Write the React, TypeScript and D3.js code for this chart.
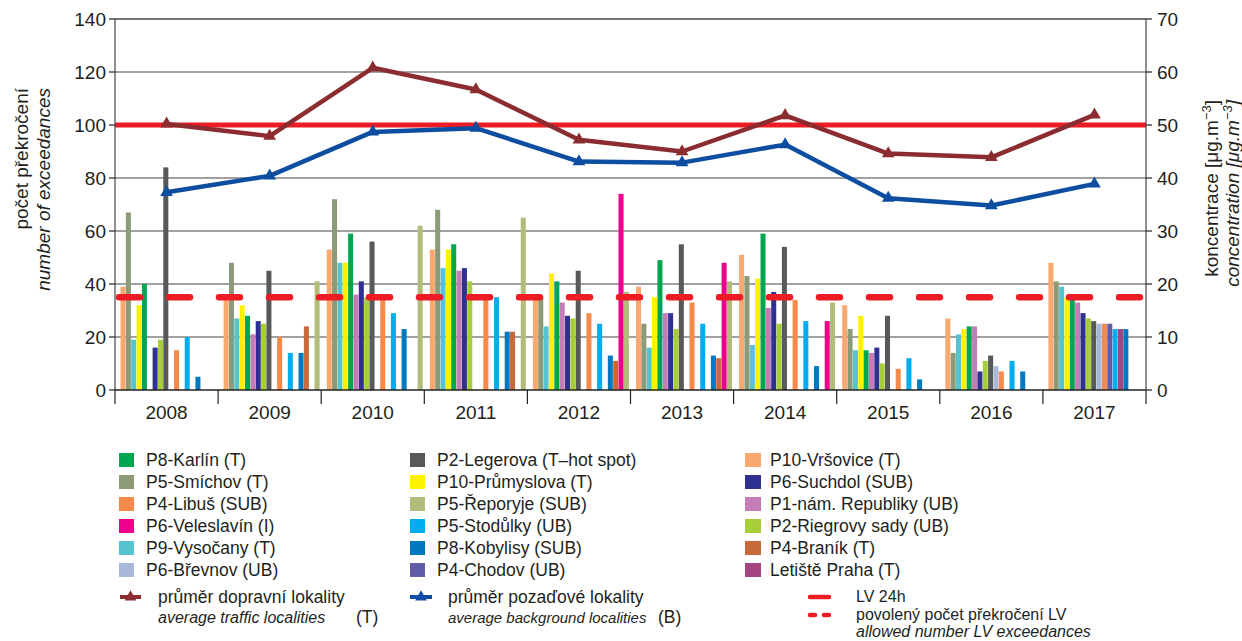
import React from "react";
import * as d3 from "d3";

// Years on the category axis
const years = ["2008", "2009", "2010", "2011", "2012", "2013", "2014", "2015", "2016", "2017"];

// Number of exceedances of the 24h limit value per station and year (null = not measured)
const vrsovice = [39, 35, 53, 53, 35, 39, 51, 32, 27, 48];
const smichov = [67, 48, 72, 68, 35, 25, 43, 23, 14, 41];
const vysocany = [19, 27, 48, 46, 24, 16, 17, 15, 21, 39];
const prumyslova = [32, 32, 48, 53, 44, 35, 42, 28, 23, 35];
const karlin = [40, 28, 59, 55, 41, 49, 59, 15, 24, 34];
const namRepubliky = [null, 21, 36, 45, 33, 29, 31, 14, 24, 33];
const suchdol = [16, 26, 41, 46, 28, 29, 37, 16, 7, 29];
const riegrovy = [19, 25, 35, 41, 27, 23, 25, 10, 11, 27];
const legerova = [84, 45, 56, null, 45, 55, 54, 28, 13, 26];
const brevnov = [null, null, null, null, null, null, null, null, 9, 25];
const libus = [15, 20, 34, 35, 29, 33, 34, 8, 7, 25];
const chodov = [null, null, null, null, null, null, null, null, null, 25];
const stodulky = [20, 14, 29, 35, 25, 25, 26, 12, 11, 23];
const letiste = [null, null, null, null, null, null, null, null, null, 23];
const kobylisy = [5, 14, 23, 22, 13, 13, 9, 4, 7, 23];
const branik = [null, 24, null, 22, 11, 12, null, null, null, null];
const veleslavin = [null, null, null, null, 74, 48, 26, null, null, null];
const reporyje = [null, 41, 62, 65, 37, 41, 33, null, null, null];

// Average concentrations [µg.m-3] (right axis)
const avgTraffic = [50.2, 47.9, 60.8, 56.7, 47.2, 45.0, 51.8, 44.6, 43.9, 51.9];
const avgBackground = [37.3, 40.4, 48.7, 49.4, 43.1, 42.9, 46.3, 36.2, 34.8, 38.9];

// Limits
const limitValue24h = 50; // µg.m-3, right axis
const allowedExceedances = 35; // count, left axis

// Axis ticks
const leftTicks = [0, 20, 40, 60, 80, 100, 120, 140];
const rightTicks = [0, 10, 20, 30, 40, 50, 60, 70];

type Station = { key: string; label: string; color: string; values: (number | null)[] };

// Bar order inside each year group
const stations: Station[] = [
  { key: "vrsovice", label: "P10-Vršovice (T)", color: "#f9a870", values: vrsovice },
  { key: "smichov", label: "P5-Smíchov (T)", color: "#8c9a78", values: smichov },
  { key: "vysocany", label: "P9-Vysočany (T)", color: "#56c3cf", values: vysocany },
  { key: "prumyslova", label: "P10-Průmyslova (T)", color: "#fff200", values: prumyslova },
  { key: "karlin", label: "P8-Karlín (T)", color: "#00a651", values: karlin },
  { key: "namRepubliky", label: "P1-nám. Republiky (UB)", color: "#c57db6", values: namRepubliky },
  { key: "suchdol", label: "P6-Suchdol (SUB)", color: "#2e3192", values: suchdol },
  { key: "riegrovy", label: "P2-Riegrovy sady (UB)", color: "#a6ce39", values: riegrovy },
  { key: "legerova", label: "P2-Legerova (T–hot spot)", color: "#58595b", values: legerova },
  { key: "brevnov", label: "P6-Břevnov (UB)", color: "#a8b8d8", values: brevnov },
  { key: "libus", label: "P4-Libuš (SUB)", color: "#f58a4b", values: libus },
  { key: "chodov", label: "P4-Chodov (UB)", color: "#605ca8", values: chodov },
  { key: "stodulky", label: "P5-Stodůlky (UB)", color: "#00aeef", values: stodulky },
  { key: "letiste", label: "Letiště Praha (T)", color: "#a3457f", values: letiste },
  { key: "kobylisy", label: "P8-Kobylisy (SUB)", color: "#0079c1", values: kobylisy },
  { key: "branik", label: "P4-Braník (T)", color: "#c8693a", values: branik },
  { key: "veleslavin", label: "P6-Veleslavín (I)", color: "#ec008c", values: veleslavin },
  { key: "reporyje", label: "P5-Řeporyje (SUB)", color: "#b3bb78", values: reporyje },
];

// Legend columns
const legendColumns: string[][] = [
  ["karlin", "smichov", "libus", "veleslavin", "vysocany", "brevnov"],
  ["legerova", "prumyslova", "reporyje", "stodulky", "kobylisy", "chodov"],
  ["vrsovice", "suchdol", "namRepubliky", "riegrovy", "branik", "letiste"],
];

const W = 1242;
const H = 641;
const left = 115;
const right = 1146;
const top = 19;
const bottom = 390;
const FONT = "'Liberation Sans', Arial, Helvetica, sans-serif";

const TRAFFIC = "#8b2c31";
const BACKGROUND = "#0e4ea0";
const RED = "#ed1c24";
const INK = "#231f20";
const LEGEND_FS = 17.5;
const SMALL_FS = 16;

export default function App() {
  const x = d3.scaleBand<string>().domain(years).range([left, right]).padding(0);
  const inner = d3
    .scaleBand<string>()
    .domain(stations.map((s) => s.key))
    .range([5.5, 101.5])
    .paddingInner(0.06);
  const yL = d3.scaleLinear().domain([0, 140]).range([bottom, top]);
  const yR = d3.scaleLinear().domain([0, 70]).range([bottom, top]);

  const cx = (i: number) => (x(years[i]) as number) + x.bandwidth() / 2;
  const lineGen = d3
    .line<number>()
    .x((_, i) => cx(i))
    .y((d) => yR(d));

  const tri = d3.symbol().type(d3.symbolTriangle).size(70)() as string;
  const triSmall = d3.symbol().type(d3.symbolTriangle).size(60)() as string;

  const byKey = new Map(stations.map((s) => [s.key, s]));
  const colX = [119, 410, 745];
  const textX = [146, 437, 770];
  const rowY = [460, 482, 504, 526, 548, 570];

  return (
    <svg
      width={W}
      height={H}
      style={{ position: "absolute", left: 0, top: 0, background: "#fff" }}
      fontFamily={FONT}
    >
      {/* gridlines */}
      {leftTicks.slice(1).map((t) => (
        <line key={"g" + t} x1={left} x2={right} y1={yL(t)} y2={yL(t)} stroke="#444" strokeWidth={t === 140 ? 1.6 : 1.2} />
      ))}

      {/* bars */}
      {years.map((yr, i) => (
        <g key={yr} transform={`translate(${x(yr)},0)`}>
          {stations.map((s) => {
            const v = s.values[i];
            if (v == null) return null;
            return (
              <rect
                key={s.key}
                x={inner(s.key)}
                y={yL(v)}
                width={inner.bandwidth()}
                height={yL(0) - yL(v)}
                fill={s.color}
              />
            );
          })}
        </g>
      ))}

      {/* allowed number of exceedances */}
      <line
        x1={left + 4}
        x2={right}
        y1={yL(allowedExceedances)}
        y2={yL(allowedExceedances)}
        stroke={RED}
        strokeWidth={6.5}
        strokeDasharray="21 29"
        strokeLinecap="round"
      />
      {/* 24h limit value */}
      <line x1={left} x2={right} y1={yR(limitValue24h)} y2={yR(limitValue24h)} stroke={RED} strokeWidth={5} />

      {/* average lines */}
      <path d={lineGen(avgTraffic) as string} fill="none" stroke={TRAFFIC} strokeWidth={4.5} strokeLinejoin="round" />
      {avgTraffic.map((v, i) => (
        <path key={"mt" + i} d={tri} transform={`translate(${cx(i)},${yR(v)})`} fill={TRAFFIC} />
      ))}
      <path d={lineGen(avgBackground) as string} fill="none" stroke={BACKGROUND} strokeWidth={4.5} strokeLinejoin="round" />
      {avgBackground.map((v, i) => (
        <path key={"mb" + i} d={tri} transform={`translate(${cx(i)},${yR(v)})`} fill={BACKGROUND} />
      ))}

      {/* axes */}
      <line x1={left} x2={left} y1={top} y2={bottom} stroke="#444" strokeWidth={1.2} />
      <line x1={right} x2={right} y1={top} y2={bottom} stroke="#444" strokeWidth={1.2} />
      <line x1={left} x2={right} y1={bottom} y2={bottom} stroke="#222" strokeWidth={1.4} />
      {years.concat(["end"]).map((yr, i) => {
        const xx = left + i * x.bandwidth();
        return <line key={"xt" + i} x1={xx} x2={xx} y1={bottom} y2={bottom + 14} stroke="#222" strokeWidth={1.2} />;
      })}
      {years.map((yr, i) => (
        <text key={"xl" + yr} x={cx(i)} y={419} textAnchor="middle" fontSize={19} fill={INK}>
          {yr}
        </text>
      ))}
      {leftTicks.map((t) => (
        <g key={"lt" + t}>
          <line x1={left - 6} x2={left} y1={yL(t)} y2={yL(t)} stroke="#222" strokeWidth={1.2} />
          <text x={left - 9} y={yL(t) + 6.5} textAnchor="end" fontSize={19} fill={INK}>
            {t}
          </text>
        </g>
      ))}
      {rightTicks.map((t) => (
        <g key={"rt" + t}>
          <line x1={right} x2={right + 6} y1={yR(t)} y2={yR(t)} stroke="#222" strokeWidth={1.2} />
          <text x={right + 11} y={yR(t) + 6.5} textAnchor="start" fontSize={19} fill={INK}>
            {t}
          </text>
        </g>
      ))}

      {/* axis titles */}
      <text transform="translate(28,88) rotate(-90)" textAnchor="end" fontSize={19} fill={INK}>
        počet překročení
      </text>
      <text transform="translate(50,88) rotate(-90)" textAnchor="end" fontSize={19} fontStyle="italic" fill={INK}>
        number of exceedances
      </text>
      <text transform="translate(1218,100) rotate(-90)" textAnchor="end" fontSize={19} fill={INK}>
        koncentrace [μg.m<tspan dy={-7} fontSize={13}>−3</tspan>
        <tspan dy={7}>]</tspan>
      </text>
      <text transform="translate(1239,100) rotate(-90)" textAnchor="end" fontSize={19} fontStyle="italic" fill={INK}>
        concentration [μg.m<tspan dy={-7} fontSize={13}>−3</tspan>
        <tspan dy={7}>]</tspan>
      </text>

      {/* legend: stations */}
      {legendColumns.map((col, ci) =>
        col.map((k, ri) => {
          const s = byKey.get(k) as Station;
          return (
            <g key={"lg" + k}>
              <rect x={colX[ci]} y={rowY[ri] - 7} width={ci === 2 ? 16 : 15} height={14} fill={s.color} />
              <text x={textX[ci]} y={rowY[ri] + 6} fontSize={LEGEND_FS} fill={INK}>
                {s.label}
              </text>
            </g>
          );
        })
      )}

      {/* legend: averages */}
      <line x1={120} x2={141} y1={597} y2={597} stroke={TRAFFIC} strokeWidth={4} />
      <path d={triSmall} transform="translate(130.5,597)" fill={TRAFFIC} />
      <text x={158} y={603} fontSize={LEGEND_FS} fill={INK}>průměr dopravní lokality</text>
      <text x={158} y={623} fontSize={SMALL_FS} fontStyle="italic" fill={INK}>average traffic localities</text>
      <text x={356} y={623} fontSize={LEGEND_FS} fill={INK}>(T)</text>

      <line x1={410} x2={432} y1={597} y2={597} stroke={BACKGROUND} strokeWidth={4} />
      <path d={triSmall} transform="translate(421,597)" fill={BACKGROUND} />
      <text x={448} y={603} fontSize={LEGEND_FS} fill={INK}>průměr pozaďové lokality</text>
      <text x={448} y={623} fontSize={15} fontStyle="italic" fill={INK}>average background localities</text>
      <text x={658} y={623} fontSize={LEGEND_FS} fill={INK}>(B)</text>

      {/* legend: limits */}
      <line x1={810} x2={829} y1={597} y2={597} stroke={RED} strokeWidth={4.5} strokeLinecap="round" />
      <text x={856} y={602} fontSize={SMALL_FS} fill={INK}>LV 24h</text>
      <line x1={810} x2={830} y1={615} y2={615} stroke={RED} strokeWidth={4.5} strokeDasharray="5 9" strokeLinecap="round" />
      <text x={856} y={619.5} fontSize={SMALL_FS} fill={INK}>povolený počet překročení LV</text>
      <text x={856} y={636.5} fontSize={SMALL_FS} fontStyle="italic" fill={INK}>allowed number LV exceedances</text>
    </svg>
  );
}
